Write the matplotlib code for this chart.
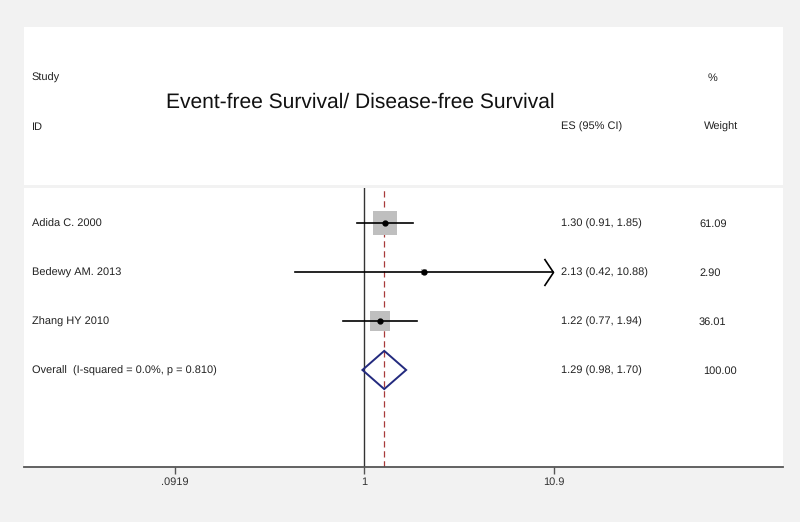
"""Forest plot: event-free / disease-free survival."""

import matplotlib.pyplot as plt
import matplotlib.transforms as mtransforms
from matplotlib.patches import Polygon, Rectangle
from matplotlib.path import Path

plt.rcParams["font.family"] = ["Liberation Sans", "DejaVu Sans"]
plt.rcParams["text.hinting"] = "no_hinting"
plt.rcParams["text.hinting_factor"] = 1

# Data
studies = ["Adida C. 2000", "Bedewy AM. 2013", "Zhang HY 2010"]
es = [1.30, 2.13, 1.22]
ci_low = [0.91, 0.42, 0.77]
ci_high = [1.85, 10.88, 1.94]
weights = [61.09, 2.90, 36.01]

overall_label = "Overall  (I-squared = 0.0%, p = 0.810)"
overall_es = 1.29
overall_low = 0.98
overall_high = 1.70
overall_weight = 100.00

tick_values = [0.0919, 1, 10.9]
tick_labels = [".0919", "1", "10.9"]

title = "Event-free Survival/ Disease-free Survival"

W, H = 800, 522
fig = plt.figure(figsize=(W / 100, H / 100), dpi=100)
fig.patch.set_facecolor("#f2f2f2")


def fx(x):
    return x / W


def fy(y):
    return 1 - y / H


# header band
fig.patches.append(Rectangle((fx(24), fy(185)), fx(783) - fx(24), fy(27) - fy(185),
                             transform=fig.transFigure, facecolor="white",
                             edgecolor="none", zorder=0))

ax = fig.add_axes([fx(24), fy(467), fx(783) - fx(24), fy(188) - fy(467)])
ax.set_facecolor("white")
ax.set_xscale("log")
ax.set_xlim(10 ** -1.861, 10 ** 2.293)
n_rows = len(studies) + 1
ax.set_ylim(n_rows + 1.98, 1 - 0.714)

for s in ["top", "left", "right"]:
    ax.spines[s].set_visible(False)
ax.spines["bottom"].set_color("#555555")
ax.spines["bottom"].set_linewidth(1.3)
ax.set_yticks([])
ax.set_xticks(tick_values)
ax.set_xticklabels(tick_labels)
ax.xaxis.set_minor_locator(plt.NullLocator())
ax.tick_params(axis="x", length=5, width=1, color="#555555", labelsize=8,
               labelcolor="#333333", pad=2)

# reference lines
ax.axvline(1, color="#333333", lw=1, zorder=1)
ax.axvline(overall_es, color="#a83a3a", lw=0.9, ls=(0, (5, 3)), zorder=1)

chevron = Path([(-0.667, 1), (0, 0), (-0.667, -1)],
               [Path.MOVETO, Path.LINETO, Path.LINETO])

rows = list(range(1, len(studies) + 1))
for y, e, lo, hi, w in zip(rows, es, ci_low, ci_high, weights):
    ax.scatter([e], [y], s=5.3 * w, marker="s", color="#bfbfbf", linewidths=0, zorder=2)
    ax.plot([lo, hi], [y, y], color="black", lw=1.2, zorder=3)
    ax.plot([e], [y], marker="o", ms=3.5, color="black", zorder=4)
    if hi >= tick_values[-1] * 0.99:
        ax.plot([hi], [y], marker=chevron, ms=19.5, color="black",
                markerfacecolor="none", mew=1.2, zorder=3)

oy = n_rows
dh = 0.39
ax.add_patch(Polygon([(overall_low, oy), (overall_es, oy - dh),
                      (overall_high, oy), (overall_es, oy + dh)],
                     closed=True, fill=False, edgecolor="#232a7e", lw=1.4, zorder=3))

# text columns
trans = mtransforms.blended_transform_factory(fig.transFigure, ax.transData)
txt = dict(fontsize=7.6, color="#222222", va="center_baseline", ha="left")
for y, name, e, lo, hi, w in zip(rows, studies, es, ci_low, ci_high, weights):
    fig.text(fx(32), y, name, transform=trans, **txt)
    fig.text(fx(561), y, f"{e:.2f} ({lo:.2f}, {hi:.2f})", transform=trans, **txt)
    fig.text(fx(699), y, f"{w:.2f}", transform=trans, **txt)
fig.text(fx(32), oy, overall_label, transform=trans, **txt)
fig.text(fx(561), oy, f"{overall_es:.2f} ({overall_low:.2f}, {overall_high:.2f})",
         transform=trans, **txt)
fig.text(fx(703), oy, f"{overall_weight:.2f}", transform=trans, **txt)

# header labels
fig.text(fx(32), fy(77), "Study", **txt)
fig.text(fx(32), fy(126), "ID", **txt)
fig.text(fx(708), fy(77), "%", **txt)
fig.text(fx(704), fy(126), "Weight", **txt)
fig.text(fx(561), fy(126), "ES (95% CI)", **txt)
fig.text(fx(360), fy(100), title, fontsize=15.3, color="#111111", ha="center",
         va="center_baseline")

fig.savefig("out.png", dpi=100, facecolor=fig.get_facecolor())
